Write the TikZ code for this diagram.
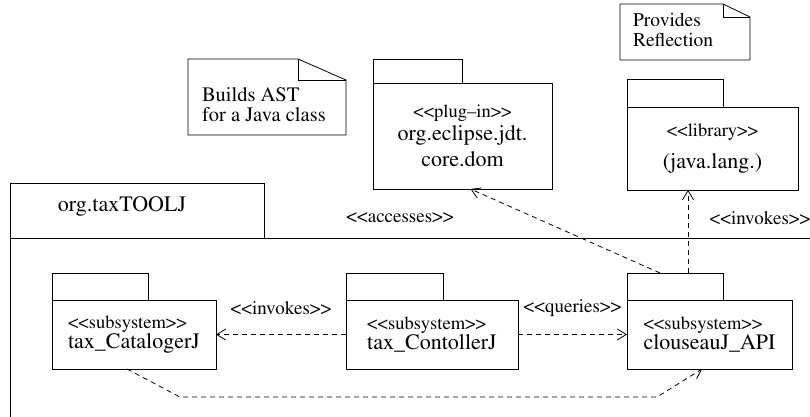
\documentclass[tikz,border=0pt]{standalone}
\usepackage[T1]{fontenc}
\usepackage{times}
\usetikzlibrary{arrows.meta}
\newcommand\stereofnt{\fontsize{18.5}{20}\selectfont}
\newcommand\namefnt{\fontsize{22}{20}\selectfont}
\newcommand\bigfnt{\fontsize{22}{26}\selectfont}
\newcommand\lblfnt{\fontsize{19}{20}\selectfont}
\begin{document}
\begin{tikzpicture}[x=1pt,y=-1pt,
  every node/.style={inner sep=0pt, outer sep=0pt},
  box/.style={draw, line width=0.8pt},
  pkgtab/.style={box, anchor=south west},
  dep/.style={line width=0.8pt, dash pattern=on 5pt off 4pt, -{Straight Barb[length=9pt,width=11pt,line width=0.8pt]}},
  lbl/.style={font=\lblfnt},
  notetext/.style={align=left, anchor=west}
]
\useasboundingbox (0,0) rectangle (810,416);
\clip (0,0) rectangle (810,416);

% outer package org.taxTOOLJ
\node[box, anchor=north west, minimum width=254pt, minimum height=55pt] (taxT) at (10,183) {};
\node[box, anchor=north west, minimum width=830pt, minimum height=220pt] (taxB) at (taxT.south west) {};
\node[font=\namefnt] (taxTitle) at (122,206) {org.taxTOOLJ};

% notes
\node[minimum width=158pt, minimum height=76pt] (ast) at (267,97) {};
\draw[box] (ast.north west) -- ([xshift=-48pt]ast.north east) -- ([yshift=-21pt]ast.north east) -- (ast.south east) -- (ast.south west) -- cycle;
\draw[box] ([xshift=-48pt]ast.north east) -- ([xshift=-48pt,yshift=-21pt]ast.north east) -- ([yshift=-21pt]ast.north east);
\node[notetext, font=\fontsize{20.5}{20}\selectfont] (astText) at (202,105) {Builds AST\\for a Java class};

\node[minimum width=130pt, minimum height=56pt] (refl) at (685,32) {};
\draw[box] (refl.north west) -- ([xshift=-27pt]refl.north east) -- ([yshift=-13pt]refl.north east) -- (refl.south east) -- (refl.south west) -- cycle;
\draw[box] ([xshift=-27pt]refl.north east) -- ([xshift=-27pt,yshift=-13pt]refl.north east) -- ([yshift=-13pt]refl.north east);
\node[notetext, font=\fontsize{19.5}{20}\selectfont] (reflText) at (633,30) {Provides\\Reflection};

% eclipse package
\node[box, minimum width=179pt, minimum height=106pt, align=center] (eclB) at (462.5,136)
  {\stereofnt <{}<plug--in>{}>\\[3pt] \bigfnt org.eclipse.jdt.\\[6pt] \bigfnt core.dom};
\node[pkgtab, minimum width=89pt, minimum height=24pt] (eclT) at (eclB.north west) {};

% java.lang package
\node[box, minimum width=171pt, minimum height=83pt, align=center] (javaB) at (712.5,148.5)
  {\stereofnt <{}<library>{}>\\[12pt] \bigfnt (java.lang.)};
\node[pkgtab, minimum width=96pt, minimum height=28pt] (javaT) at (javaB.north west) {};

% subsystems
\node[box, minimum width=164pt, minimum height=69pt, align=left] (catB) at (134,334.5)
  {\stereofnt <{}<subsystem>{}>\\ \namefnt tax\_CatalogerJ};
\node[pkgtab, minimum width=96pt, minimum height=27pt] (catT) at (catB.north west) {};

\node[box, minimum width=172pt, minimum height=69pt, align=left] (ctrlB) at (432,334.5)
  {\stereofnt <{}<subsystem>{}>\\ \namefnt tax\_ContollerJ};
\node[pkgtab, minimum width=97pt, minimum height=27pt] (ctrlT) at (ctrlB.north west) {};

\node[box, minimum width=165pt, minimum height=69pt, align=left] (clouB) at (709.5,334.5)
  {\stereofnt <{}<subsystem>{}>\\ \namefnt clouseauJ\_API};
\node[pkgtab, minimum width=96pt, minimum height=27pt] (clouT) at (clouB.north west) {};

% dependencies
\draw[dep] (ctrlB.west) -- (catB.east) node[lbl, midway, yshift=26pt] (invL) {<{}<invokes>{}>};
\draw[dep] (ctrlB.east) -- (clouB.west) node[lbl, midway, yshift=26pt] (qryL) {<{}<queries>{}>};
\coordinate (b1) at (180,397);
\coordinate (b2) at (657,397);
\draw[dep] ([xshift=-7pt]catB.south) -- (b1) -- (b2) -- ([xshift=-7.5pt]clouB.south);
\draw[dep] ([xshift=-15pt]clouT.north) -- ([xshift=8pt]eclB.south);
\node[lbl] (accL) at (400,218) {<{}<accesses>{}>};
\draw[dep] ([xshift=13pt]clouT.north) -- ([xshift=-24.5pt]javaB.south);
\node[lbl] (invUpL) at (760,218) {<{}<invokes>{}>};
\end{tikzpicture}
\end{document}
